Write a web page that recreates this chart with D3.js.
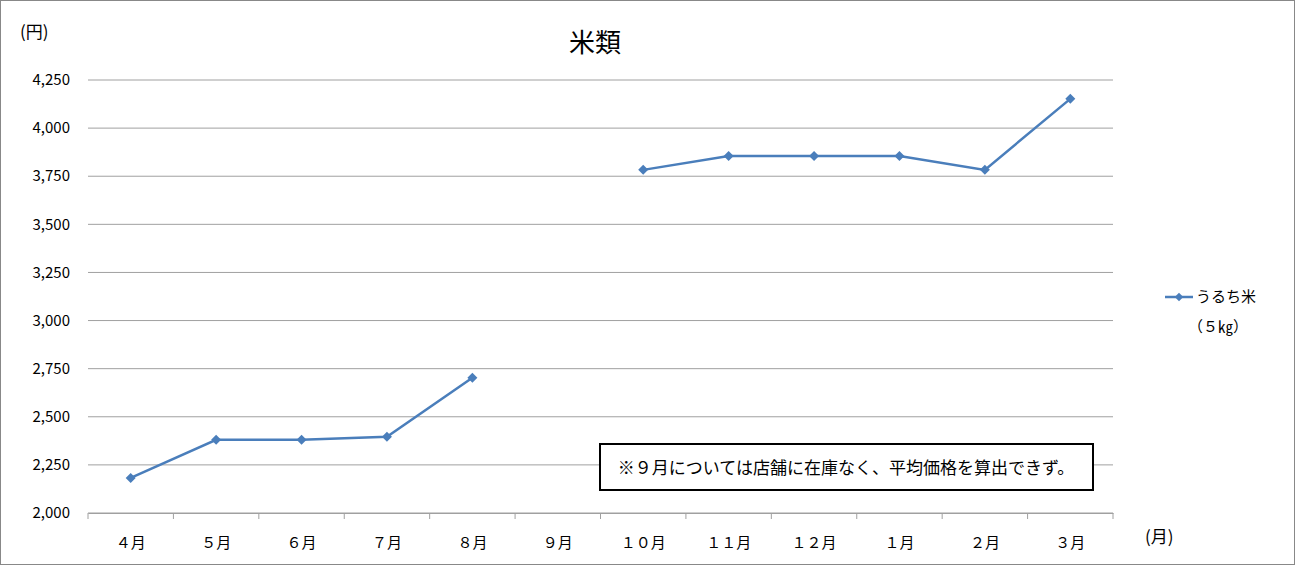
<!DOCTYPE html>
<html><head><meta charset="utf-8">
<script src="https://cdn.jsdelivr.net/npm/d3@7"></script>
<style>
body{margin:0;background:#fff;font-family:"Noto Sans CJK JP",sans-serif;}
svg text{font-family:"Noto Sans CJK JP",sans-serif;fill:#000;}
</style></head><body>
<div id="chart"></div>
<script>
var months = ["４月","５月","６月","７月","８月","９月","１０月","１１月","１２月","１月","２月","３月"];
var prices = [2182, 2380, 2380, 2396, 2703, null, 3783, 3855, 3855, 3855, 3783, 4152];
var yTicks = [2000, 2250, 2500, 2750, 3000, 3250, 3500, 3750, 4000, 4250];

var W = 1295, H = 565;
var margin = {top: 80, left: 88, right: 182, bottom: 52};
var width = W - margin.left - margin.right, height = H - margin.top - margin.bottom;

var svg = d3.select("#chart").append("svg").attr("width", W).attr("height", H);
svg.append("rect").attr("x", 0.5).attr("y", 0.5).attr("width", W - 1).attr("height", H - 1)
    .attr("fill", "#fff").attr("stroke", "#888");

var g = svg.append("g").attr("transform", "translate(" + margin.left + "," + margin.top + ")");

var x = d3.scaleBand().domain(months).range([0, width]);
var y = d3.scaleLinear().domain([2000, 4250]).range([height, 0]);

// gridlines
g.selectAll(".grid").data(yTicks).enter().append("line")
    .attr("x1", 0).attr("x2", width)
    .attr("y1", d => y(d)).attr("y2", d => y(d))
    .attr("stroke", "#a0a0a0").attr("stroke-width", 1);

// y labels
g.selectAll(".ylab").data(yTicks).enter().append("text")
    .attr("x", -18).attr("y", d => y(d)).attr("dy", "0.35em")
    .attr("text-anchor", "end").attr("font-size", 15)
    .text(d => d3.format(",")(d));

// x axis
var xAxis = g.append("g").attr("transform", "translate(0," + height + ")")
    .call(d3.axisBottom(x).tickSize(0).tickPadding(24));
xAxis.select(".domain").attr("stroke", "#a0a0a0");
xAxis.selectAll("text").attr("font-size", 15);
xAxis.selectAll(".sep").data(months.concat([""])).enter().append("line")
    .attr("x1", (d, i) => i * x.bandwidth()).attr("x2", (d, i) => i * x.bandwidth())
    .attr("y1", 0).attr("y2", 6).attr("stroke", "#a0a0a0");

// line
var line = d3.line().defined(d => d != null)
    .x((d, i) => x(months[i]) + x.bandwidth() / 2).y(d => y(d));
g.append("path").datum(prices).attr("d", line)
    .attr("fill", "none").attr("stroke", "#4a7ebb").attr("stroke-width", 2.5);
g.selectAll(".pt").data(prices.map((v, i) => ({v: v, m: months[i]})).filter(d => d.v != null))
    .enter().append("path")
    .attr("d", d3.symbol(d3.symbolSquare, 50))
    .attr("transform", d => "translate(" + (x(d.m) + x.bandwidth() / 2) + "," + y(d.v) + ") rotate(45)")
    .attr("fill", "#4a7ebb");

// titles
svg.append("text").attr("x", 595).attr("y", 52).attr("text-anchor", "middle")
    .attr("font-size", 26).text("米類");
svg.append("text").attr("x", 20).attr("y", 38).attr("font-size", 17).text("(円)");
svg.append("text").attr("x", 1145).attr("y", 543).attr("font-size", 17).text("(月)");

// legend
svg.append("line").attr("x1", 1165).attr("x2", 1193).attr("y1", 297).attr("y2", 297)
    .attr("stroke", "#4a7ebb").attr("stroke-width", 2.5);
svg.append("path").attr("d", d3.symbol(d3.symbolSquare, 36))
    .attr("transform", "translate(1179,297) rotate(45)").attr("fill", "#4a7ebb");
svg.append("text").attr("x", 1196).attr("y", 302).attr("font-size", 15).text("うるち米");
svg.append("text").attr("x", 1188).attr("y", 332).attr("font-size", 15).text("（５㎏）");

// note
svg.append("rect").attr("x", 600).attr("y", 444).attr("width", 493).attr("height", 46)
    .attr("fill", "#fff").attr("stroke", "#000").attr("stroke-width", 2);
svg.append("text").attr("x", 846).attr("y", 474).attr("text-anchor", "middle")
    .attr("font-size", 17).text("※９月については店舗に在庫なく、平均価格を算出できず。");
</script>
</body></html>
